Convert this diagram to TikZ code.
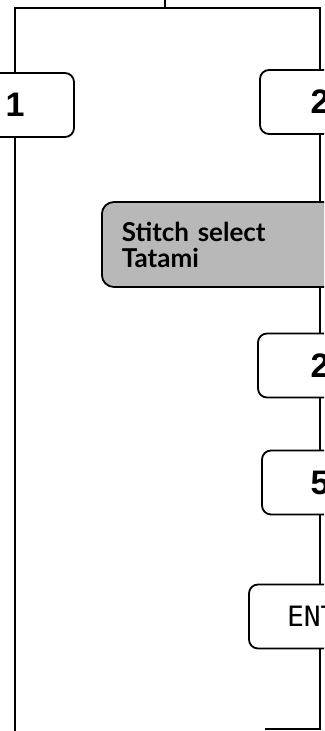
\documentclass[tikz,border=0pt]{standalone}
\usepackage{fontspec}
\setmainfont{Liberation Sans}
\newfontfamily\keyfont{Liberation Sans}
\newfontfamily\menufont{Lato}
\newfontfamily\entfont{DejaVu Sans Mono}
\usetikzlibrary{positioning}

\begin{document}
\begin{tikzpicture}[x=1pt, y=-1pt,
    keybox/.style={draw, line width=1.8pt, rounded corners=9pt, minimum height=64pt, inner sep=0pt,
        font=\keyfont\bfseries\fontsize{34}{36}\selectfont},
    menubox/.style={draw, line width=1.8pt, rounded corners=12pt, fill=black!28, anchor=west,
        minimum height=85pt, inner xsep=20pt, text width=260pt, align=left,
        font=\menufont\bfseries\fontsize{26}{26}\selectfont},
    flow/.style={draw, line width=1.6pt}
]
    \useasboundingbox (0,0) rectangle (324,731);
    \clip (0,0) rectangle (324,731);

    % keys down the left and right
    \node[keybox, minimum width=118pt] (keyone) at (15,105) {1};
    \node[keybox, minimum width=120pt] (keytwo) at (320,102) {2};
    \node[menubox] (stitch) at (101,244.5) {Stitch select\\Tatami};
    \node[keybox, minimum width=124pt] (keytwob) at (320,365.5) {2};
    \node[keybox, minimum width=116pt] (keyfive) at (320,482.5) {5};
    \node[keybox, minimum width=142pt, text width=66pt, inner xsep=38pt, align=left,
        font=\entfont\fontsize{28}{30}\selectfont] (keyent) at (320,616.5) {ENT};

    \coordinate (top) at (165,0);
    \coordinate (topleft) at (15,8);
    \coordinate (topright) at (320,8);
    \coordinate (leftend) at (15,731);
    \coordinate (bottom) at (265,729);

    % connectors
    \draw[flow] (top) |- (topleft) -- (keyone);
    \draw[flow] (top) |- (topright) -- (keytwo);
    \draw[flow] (keyone) -- (leftend);
    \draw[flow] (keytwo) -- (keytwo.south |- stitch.north);
    \draw[flow] (keytwo.south |- stitch.south) -- (keytwob);
    \draw[flow] (keytwob) -- (keyfive);
    \draw[flow] (keyfive) -- (keyent);
    \draw[flow] (keyent) |- (bottom);
\end{tikzpicture}
\end{document}
